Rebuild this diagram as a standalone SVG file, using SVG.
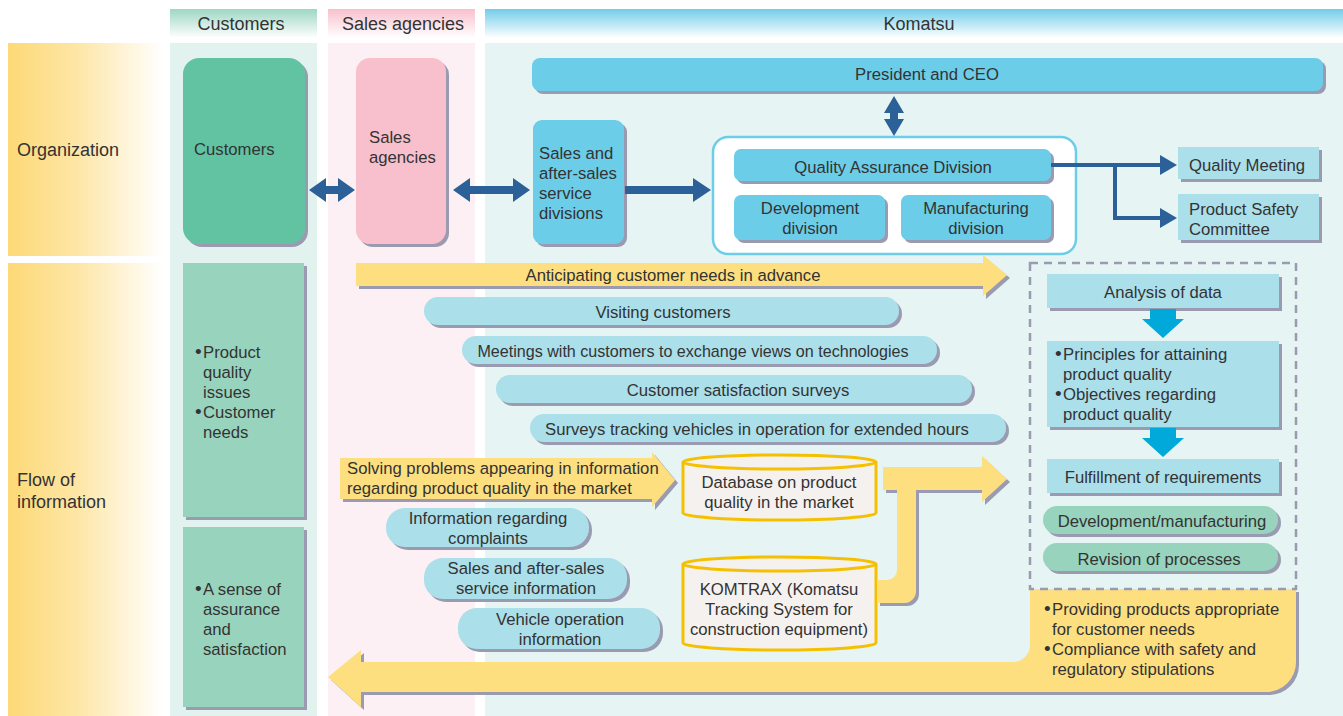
<svg xmlns="http://www.w3.org/2000/svg" width="1343" height="716" viewBox="0 0 1343 716">
<defs>
<style>
text{font-family:"Liberation Sans",Arial,sans-serif;font-size:16.7px;fill:#333;}
.hd{font-size:18px;}
.sm{font-size:16.1px;}
.c{text-anchor:middle;}
.b{font-size:19px;}
.blue{fill:#6ccde9;}
.lblue{fill:#abdfea;}
.green{fill:#62c3a3;}
.lgreen{fill:#98d3bd;}
.pink{fill:#f8c0cd;}
.yel{fill:#fddf80;}
.arr{fill:#2b6198;}
.cyan{fill:#00a9d9;}
.cyl{fill:#f5f1ef;stroke:#f5c000;stroke-width:3;}
.ln{fill:none;stroke:#2b6198;stroke-width:4;}
</style>
<filter id="sh" x="-5%" y="-10%" width="115%" height="140%">
<feOffset in="SourceAlpha" dx="3" dy="3" result="o"/>
<feFlood flood-color="#9a9ab0"/>
<feComposite in2="o" operator="in" result="s"/>
<feMerge><feMergeNode in="s"/><feMergeNode in="SourceGraphic"/></feMerge>
</filter>
<linearGradient id="gOrg" x1="0" y1="0" x2="1" y2="0">
<stop offset="0" stop-color="#fdd977"/><stop offset="0.45" stop-color="#fde6a6"/><stop offset="1" stop-color="#ffffff"/>
</linearGradient>
<linearGradient id="gHc" x1="0" y1="0" x2="0" y2="1">
<stop offset="0" stop-color="#9dd7c3"/><stop offset="1" stop-color="#ffffff"/>
</linearGradient>
<linearGradient id="gHs" x1="0" y1="0" x2="0" y2="1">
<stop offset="0" stop-color="#f8c0cd"/><stop offset="1" stop-color="#ffffff"/>
</linearGradient>
<linearGradient id="gHk" x1="0" y1="0" x2="0" y2="1">
<stop offset="0" stop-color="#72cdea"/><stop offset="1" stop-color="#ffffff"/>
</linearGradient>
</defs>
<rect width="1343" height="716" fill="#ffffff"/>
<g id="background">
<rect x="170" y="43" width="147" height="673" fill="#e2f2ee"/>
<rect x="328" y="43" width="147" height="673" fill="#fdf0f4"/>
<rect x="485" y="43" width="858" height="673" fill="#e6f4f4"/>
<rect x="8" y="43" width="155" height="213" fill="url(#gOrg)"/>
<rect x="8" y="263" width="155" height="453" fill="url(#gOrg)"/>
<rect x="170" y="9" width="147" height="29" fill="url(#gHc)"/>
<rect x="328" y="9" width="147" height="29" fill="url(#gHs)"/>
<rect x="485" y="9" width="858" height="29" fill="url(#gHk)"/>
<text class="hd c" x="241" y="30">Customers</text>
<text class="hd c" x="403" y="30">Sales agencies</text>
<text class="hd c" x="919" y="30">Komatsu</text>
<text class="hd" x="17" y="156">Organization</text>
<text class="hd" x="17" y="486">Flow of</text>
<text class="hd" x="17" y="508">information</text>
</g>
<g id="n-bottom-flow">
<path class="yel" filter="url(#sh)" d="M1030,589 H1296 V662 A30,30 0 0 1 1266,692 H361 V707 L328,677 L361,650 V662 H1013 A17,17 0 0 0 1030,645 Z"/>
<text><tspan class="b" x="1044" y="615">•</tspan><tspan x="1052" y="615">Providing products appropriate</tspan></text>
<text x="1052" y="635">for customer needs</text>
<text><tspan class="b" x="1044" y="655">•</tspan><tspan x="1052" y="655">Compliance with safety and</tspan></text>
<text x="1052" y="675">regulatory stipulations</text>
</g>
<g id="n-customers">
<rect class="green" filter="url(#sh)" x="183" y="58" width="122" height="186" rx="16"/>
<text x="194" y="155">Customers</text>
</g>
<g id="n-sales-agencies">
<rect class="pink" filter="url(#sh)" x="356" y="58" width="90" height="186" rx="14"/>
<text x="369" y="143">Sales</text>
<text x="369" y="163">agencies</text>
</g>
<g id="n-service-divisions">
<rect class="blue" filter="url(#sh)" x="533" y="120" width="91" height="124" rx="9"/>
<text x="539" y="159">Sales and</text>
<text x="539" y="179">after-sales</text>
<text x="539" y="199">service</text>
<text x="539" y="219">divisions</text>
</g>
<g id="n-president">
<rect class="blue" filter="url(#sh)" x="532" y="58" width="791" height="33" rx="8"/>
<text class="c" x="927" y="80">President and CEO</text>
</g>
<g id="n-qa-group">
<rect x="713" y="137" width="363" height="117" rx="15" fill="#ffffff" stroke="#6ccde9" stroke-width="2.5"/>
</g>
<g id="n-qa">
<rect class="blue" filter="url(#sh)" x="734" y="149" width="317" height="32" rx="7"/>
<text class="c" x="893" y="173">Quality Assurance Division</text>
</g>
<g id="n-dev">
<rect class="blue" filter="url(#sh)" x="734" y="195" width="151" height="45" rx="7"/>
<text class="c" x="810" y="214">Development</text>
<text class="c" x="810" y="234">division</text>
</g>
<g id="n-manuf">
<rect class="blue" filter="url(#sh)" x="901" y="195" width="150" height="45" rx="7"/>
<text class="c" x="976" y="214">Manufacturing</text>
<text class="c" x="976" y="234">division</text>
</g>
<g id="n-quality-meeting">
<rect class="lblue" filter="url(#sh)" x="1178" y="147" width="141" height="32"/>
<text x="1189" y="171">Quality Meeting</text>
</g>
<g id="n-safety">
<rect class="lblue" filter="url(#sh)" x="1178" y="194" width="141" height="46"/>
<text x="1189" y="215">Product Safety</text>
<text x="1189" y="235">Committee</text>
</g>
<g id="n-cust-needs">
<rect class="lgreen" filter="url(#sh)" x="183" y="263" width="121" height="254"/>
<text><tspan class="b" x="195" y="358">•</tspan><tspan x="203" y="358">Product</tspan></text>
<text x="203" y="378">quality</text>
<text x="203" y="398">issues</text>
<text><tspan class="b" x="195" y="418">•</tspan><tspan x="203" y="418">Customer</tspan></text>
<text x="203" y="438">needs</text>
</g>
<g id="n-cust-assurance">
<rect class="lgreen" filter="url(#sh)" x="183" y="527" width="121" height="180"/>
<text><tspan class="b" x="195" y="595">•</tspan><tspan x="203" y="595">A sense of</tspan></text>
<text x="203" y="615">assurance</text>
<text x="203" y="635">and</text>
<text x="203" y="655">satisfaction</text>
</g>
<g id="n-anticipating">
<path class="yel" filter="url(#sh)" d="M356,263 H983 V255 L1007,275 L983,296 V286 H356 Z"/>
<text class="c" x="673" y="281">Anticipating customer needs in advance</text>
</g>
<g id="n-visiting">
<rect class="lblue" filter="url(#sh)" x="424" y="297" width="475" height="28" rx="14"/>
<text class="c" x="663" y="318">Visiting customers</text>
</g>
<g id="n-meetings">
<rect class="lblue" filter="url(#sh)" x="462" y="336" width="475" height="28" rx="14"/>
<text class="c sm" x="693" y="357">Meetings with customers to exchange views on technologies</text>
</g>
<g id="n-satisfaction">
<rect class="lblue" filter="url(#sh)" x="496" y="375" width="476" height="28" rx="14"/>
<text class="c" x="738" y="396">Customer satisfaction surveys</text>
</g>
<g id="n-surveys">
<rect class="lblue" filter="url(#sh)" x="530" y="414" width="476" height="28" rx="14"/>
<text class="c" x="757" y="435">Surveys tracking vehicles in operation for extended hours</text>
</g>
<g id="n-solving">
<path class="yel" filter="url(#sh)" d="M340,458 H652 V452 L675,480 L652,507 V499 H340 Z"/>
<text x="347" y="474">Solving problems appearing in information</text>
<text x="347" y="494">regarding product quality in the market</text>
</g>
<g id="n-database">
<path class="cyl" d="M683,462 A96.5,7 0 0 1 876,462 V513 A96.5,7 0 0 1 683,513 Z"/>
<path fill="none" stroke="#f5c000" stroke-width="3" d="M683,462 A96.5,7 0 0 0 876,462"/>
<text class="c" x="779" y="488">Database on product</text>
<text class="c" x="779" y="508">quality in the market</text>
</g>
<g id="n-complaints">
<rect class="lblue" filter="url(#sh)" x="386" y="508" width="203" height="39" rx="19"/>
<text class="c" x="488" y="524">Information regarding</text>
<text class="c" x="488" y="544">complaints</text>
</g>
<g id="n-service-info">
<rect class="lblue" filter="url(#sh)" x="424" y="558" width="203" height="41" rx="19"/>
<text class="c" x="526" y="574">Sales and after-sales</text>
<text class="c" x="526" y="594">service information</text>
</g>
<g id="n-vehicle-info">
<rect class="lblue" filter="url(#sh)" x="458" y="608" width="202" height="41" rx="19"/>
<text class="c" x="560" y="625">Vehicle operation</text>
<text class="c" x="560" y="645">information</text>
</g>
<g id="n-komtrax">
<path class="cyl" d="M683,564 A96.5,7 0 0 1 876,564 V643 A96.5,7 0 0 1 683,643 Z"/>
<path fill="none" stroke="#f5c000" stroke-width="3" d="M683,564 A96.5,7 0 0 0 876,564"/>
<text class="c" x="779" y="595">KOMTRAX (Komatsu</text>
<text class="c" x="779" y="615">Tracking System for</text>
<text class="c" x="779" y="635">construction equipment)</text>
</g>
<g id="n-analysis-box">
<rect x="1030" y="263" width="266" height="326" fill="none" stroke="#9a9ab0" stroke-width="2.5" stroke-dasharray="8,6"/>
</g>
<g id="n-analysis">
<rect class="lblue" filter="url(#sh)" x="1047" y="274" width="232" height="34"/>
<text class="c" x="1163" y="298">Analysis of data</text>
</g>
<g id="n-principles">
<rect class="lblue" filter="url(#sh)" x="1047" y="341" width="232" height="86"/>
<text><tspan class="b" x="1055" y="360">•</tspan><tspan x="1063" y="360">Principles for attaining</tspan></text>
<text x="1063" y="380">product quality</text>
<text><tspan class="b" x="1055" y="400">•</tspan><tspan x="1063" y="400">Objectives regarding</tspan></text>
<text x="1063" y="420">product quality</text>
</g>
<g id="n-fulfillment">
<rect class="lblue" filter="url(#sh)" x="1047" y="459" width="232" height="34"/>
<text class="c" x="1163" y="483">Fulfillment of requirements</text>
</g>
<g id="n-devmanuf">
<rect class="lgreen" filter="url(#sh)" x="1043" y="506" width="235" height="28" rx="14"/>
<text class="c" x="1162" y="527">Development/manufacturing</text>
</g>
<g id="n-revision">
<rect class="lgreen" filter="url(#sh)" x="1043" y="543" width="235" height="28" rx="14"/>
<text class="c" x="1159" y="565">Revision of processes</text>
</g>
<g id="connectors">
<polygon class="arr" points="309,190 326,178 326,186 338,186 338,178 355,190 338,202 338,194 326,194 326,202"/>
<polygon class="arr" points="453,190 470,178 470,186 513,186 513,178 530,190 513,202 513,194 470,194 470,202"/>
<polygon class="arr" points="625,186 693,186 693,178 711,190 693,202 693,194 625,194"/>
<polygon class="arr" points="894,96 904,113 898,113 898,119 904,119 894,136 884,119 890,119 890,113 884,113"/>
<polyline class="ln" points="1051,165 1162,165"/>
<polyline class="ln" points="1115,165 1115,218 1162,218"/>
<polygon class="arr" points="1160,155 1177,165 1160,175"/>
<polygon class="arr" points="1160,208 1177,218 1160,228"/>
<polygon class="cyan" points="1150,309 1176,309 1176,319 1184,319 1163,338 1142,319 1150,319"/>
<polygon class="cyan" points="1150,428 1176,428 1176,438 1184,438 1163,457 1142,438 1150,438"/>
<path class="yel" filter="url(#sh)" d="M883,467 H982 V456 L1007,479 L982,502 V490 H916 V591 A12,12 0 0 1 904,603 H877 V580 H887 A10,10 0 0 0 897,570 V490 H883 Z"/>
</g>
</svg>
